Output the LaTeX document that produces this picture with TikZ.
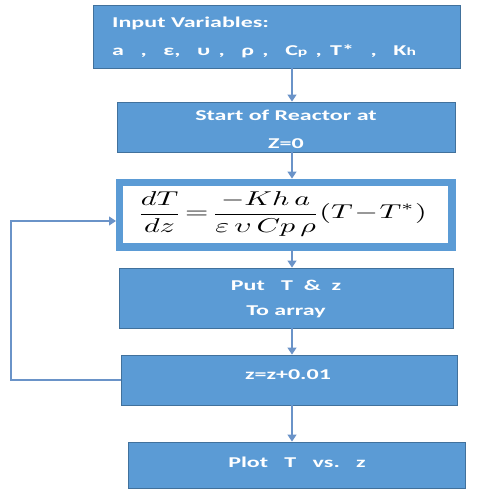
\documentclass[tikz,border=0pt]{standalone}
\usepackage{fontspec}
\setmainfont[FakeStretch=1.6]{Carlito}
\usetikzlibrary{arrows.meta}
\definecolor{boxfill}{HTML}{5B9BD5}
\definecolor{boxline}{HTML}{41719C}
\definecolor{arrcol}{HTML}{6A93C8}
\newcommand\gapx{\hspace{8.3pt}}
\tikzset{
  blk/.style={draw=boxline, line width=0.8pt, fill=boxfill, inner sep=0pt},
  txt/.style={text=white, font=\fontsize{15}{18}\selectfont\bfseries, inner sep=0pt},
  arr/.style={draw=arrcol, line width=1.2pt, -{Triangle[length=7pt,width=9pt]}},
}
\begin{document}
\begin{tikzpicture}[x=1pt,y=-1pt]
\useasboundingbox (0,0) rectangle (485,491);
% boxes
\node[blk, minimum width=367pt, minimum height=63pt] (b1) at (276.5,36.5) {};
\node[blk, minimum width=338pt, minimum height=50pt] (b2) at (286,127) {};
\node[blk, draw=boxfill, minimum width=339pt, minimum height=71pt] (b3) at (285.5,214.5) {};
\node[fill=white, inner sep=0pt, minimum width=325pt, minimum height=57pt] (b3in) at (285.5,214.5) {};
\node[blk, minimum width=334pt, minimum height=60pt] (b4) at (286,298) {};
\node[blk, minimum width=336pt, minimum height=50pt] (b5) at (289,380) {};
\node[blk, minimum width=337pt, minimum height=46pt] (b6) at (296.5,465) {};
% texts
\node[txt, anchor=base west] (t1a) at (112,27) {Input Variables:};
\node[txt, anchor=base west] (t1b) at (112,55) {a\gapx\gapx,\gapx\gapx ε,\gapx\gapx υ\gapx,\gapx\gapx ρ\gapx,\gapx\gapx C{\fontsize{11}{12}\selectfont p}\gapx,\gapx T*\gapx\gapx,\gapx\gapx K{\fontsize{11}{12}\selectfont h}};
\node[txt, anchor=base] (t2a) at (286,120) {Start of Reactor at};
\node[txt, anchor=base] (t2b) at (286,148) {Z=0};
\node[anchor=center, inner sep=0pt] (eq) at (282,214) {\scalebox{3.0}[2.0]{$\displaystyle \frac{dT}{dz}\!=\!\frac{-Kh\,a}{\varepsilon\,\upsilon\,Cp\,\rho}(T\!-\!T^{*})$}};
\node[txt, anchor=base] (t4a) at (286,290) {Put\ \ \ T\ \ \&\ \ z};
\node[txt, anchor=base] (t4b) at (286,315) {To array};
\node[txt, anchor=base] (t5) at (288,379) {z=z+0.01};
\node[txt, anchor=base] (t6) at (297,467) {Plot\ \ \ T\ \ \ vs.\ \ \ z};
% arrows
\coordinate (ax) at (292,0);
\coordinate (lx) at (11,0);
\draw[arr] (b1.south -| ax) -- (b2.north -| ax);
\draw[arr] (b2.south -| ax) -- (b3.north -| ax);
\draw[arr] (b3.south -| ax) -- (b4.north -| ax);
\draw[arr] (b4.south -| ax) -- (b5.north -| ax);
\draw[arr] (b5.south -| ax) -- (b6.north -| ax);
\coordinate (fb) at (116,221);
\draw[arr] (b5.west) -- (b5.west -| lx) |- (fb);
\end{tikzpicture}
\end{document}
